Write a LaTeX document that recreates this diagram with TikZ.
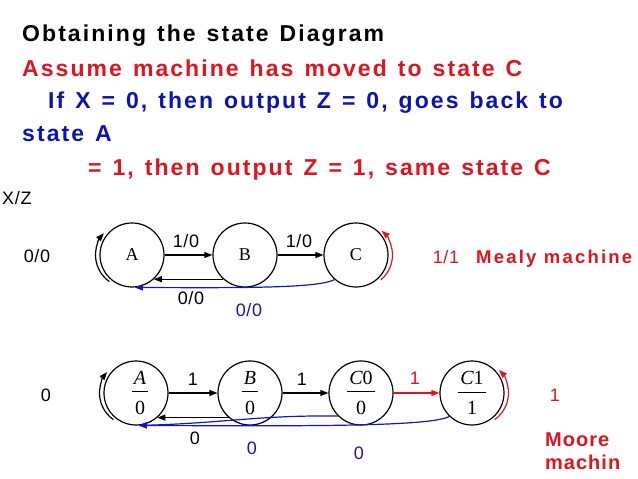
\documentclass[tikz,border=0pt]{standalone}
\usepackage{fontspec}
\setmainfont{Liberation Sans}
\newfontfamily\tnr{Liberation Serif}
\newfontfamily\spbold[LetterSpace=9,WordSpace=1.3]{Liberation Sans}
\newfontfamily\spmid[LetterSpace=12]{Liberation Sans}
\newfontfamily\spsm[LetterSpace=5]{Liberation Sans}
\newfontfamily\lblfont[LetterSpace=4]{Liberation Sans}
\usetikzlibrary{arrows.meta}
\definecolor{myred}{RGB}{225,20,30}
\definecolor{myblue}{RGB}{10,20,180}
\definecolor{arrblue}{RGB}{20,20,200}
\newcommand\mfr[2]{{\tnr\fontsize{20}{20}\selectfont
  \setbox0\hbox{#1}\setbox2\hbox{#2}%
  \dimen0=\ifdim\wd0>\wd2 \wd0\else\wd2\fi
  \advance\dimen0 4pt
  \vbox{\hbox to\dimen0{\hss\box0\hss}\kern7pt\hrule height 1pt\kern9pt\hbox to\dimen0{\hss\box2\hss}}}}
\tikzset{
  st/.style={circle, draw, line width=1.2pt, minimum size=64pt, inner sep=0pt, font=\tnr\fontsize{18}{18}\selectfont},
  arr/.style={line width=1.2pt, -{Triangle[length=8pt,width=6pt]}},
  lbl/.style={font=\lblfont\fontsize{18}{18}\selectfont, inner sep=0pt, anchor=base},
  hd/.style={font=\spbold\bfseries\fontsize{23}{26}\selectfont, inner sep=0pt, anchor=base west},
  mid/.style={font=\spmid\bfseries\fontsize{18.5}{20}\selectfont, inner sep=0pt, anchor=base west},
  big/.style={font=\spsm\bfseries\fontsize{20}{22}\selectfont, inner sep=0pt, anchor=base west}
}
\begin{document}
\begin{tikzpicture}[x=1pt,y=1pt]
\useasboundingbox (0,0) rectangle (638,479);
% headings
\node[hd] (t1) at (22,437) {Obtaining the state Diagram};
\node[hd, text=myred] (t2) at (22,402) {Assume machine has moved to state C};
\node[hd, text=myblue] (t3) at (48,370) {If X = 0, then output Z = 0, goes back to};
\node[hd, text=myblue] (t4) at (22,337) {state A};
\node[hd, text=myred] (t5) at (88,303) {= 1, then output Z = 1, same state C};
\node[lbl, anchor=base west] (xz) at (2,274) {X/Z};
% Mealy
\node[st] (A) at (132,224) {A};
\node[st] (B) at (245,224) {B};
\node[st] (C) at (356,224) {C};
\draw[arr] (A) -- (B);
\draw[arr] (B) -- (C);
\draw[arr] (B.228) -- (A.-48);
\draw[arr, arrblue] (C.229) .. controls (318,191) and (250,191) .. (A.-85);
\draw[arr] ([xshift=-4pt]A.center) ++(235:32.5) arc[start angle=235,end angle=138,radius=32.5];
\draw[arr, myred] ([xshift=4pt]C.center) ++(-50:32.5) arc[start angle=-50,end angle=48,radius=32.5];
\node[lbl] (l1) at (186,231) {1/0};
\node[lbl] (l2) at (299,231) {1/0};
\node[lbl] (l3) at (191,174) {0/0};
\node[lbl, text=arrblue] (l4) at (249,162) {0/0};
\node[lbl] (l5) at (37,216) {0/0};
\node[lbl, text=myred] (l6) at (446,215) {1/1};
\node[mid, text=myred] (mealy) at (476,215) {Mealy machine};
% Moore
\node[st] (A2) at (136,86) {\hspace{8pt}\mfr{\itshape A}{0}};
\node[st] (B2) at (250,86) {\mfr{\itshape B}{0}};
\node[st] (C02) at (361,86) {\mfr{\itshape C\upshape 0}{0}};
\node[st] (C12) at (472,86) {\mfr{\itshape C\upshape 1}{1}};
\draw[arr] (A2) -- (B2);
\draw[arr] (B2) -- (C02);
\draw[arr, myred] (C02) -- (C12);
\draw[arr] (B2.229) -- (A2.-49);
\draw[arr, arrblue] (C02.225) .. controls (260,64) and (225,56) .. (A2.-85);
\draw[arr, arrblue] (C12.226) .. controls (430,52) and (300,53) .. (A2.-85);
\draw[arr] ([xshift=-4pt]A2.center) ++(235:32.5) arc[start angle=235,end angle=140,radius=32.5];
\draw[arr, myred] ([xshift=4pt]C12.center) ++(-55:32.5) arc[start angle=-55,end angle=45,radius=32.5];
\node[lbl] (m1) at (193,93) {1};
\node[lbl] (m2) at (302,93) {1};
\node[lbl, text=myred] (m3) at (415,94) {1};
\node[lbl] (m4) at (195,34) {0};
\node[lbl, text=arrblue] (m5) at (252,24) {0};
\node[lbl, text=arrblue] (m6) at (359,19) {0};
\node[lbl] (m7) at (46,77) {0};
\node[lbl, text=myred] (m8) at (555,77) {1};
\node[big, text=myred] (moore) at (545,32) {Moore};
\node[big, text=myred] (machin) at (545,9) {machin};
\end{tikzpicture}
\end{document}
